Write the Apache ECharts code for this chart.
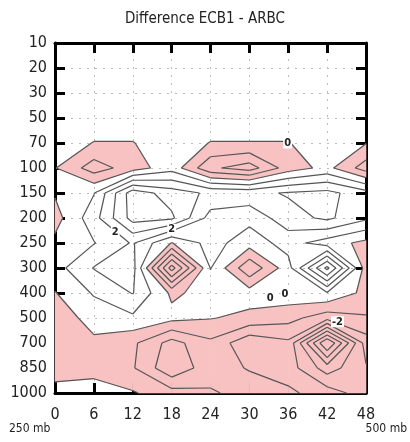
<!DOCTYPE html>
<html>
<head>
<meta charset="utf-8">
<script src="https://cdn.jsdelivr.net/npm/echarts@6/dist/echarts.min.js"></script>
<style>html,body{margin:0;padding:0;background:#fff}#main{width:410px;height:442px}</style>
</head>
<body>
<div id="main"></div>
<script>
// forecast hour (x) and pressure level (y, top to bottom)
var hours = [0, 6, 12, 18, 24, 30, 36, 42, 48];
var levels = ['10', '20', '30', '50', '70', '100', '150', '200', '250', '300', '400', '500', '700', '850', '1000'];

// difference ECB1 - ARBC, one array per level
var d10   = [0.3, 0.3, 0.3, 0.3, 0.3, 0.3, 0.3, 0.3, 0.3];
var d20   = [0.3, 0.3, 0.3, 0.3, 0.3, 0.3, 0.3, 0.3, 0.3];
var d30   = [0.3, 0.3, 0.3, 0.3, 0.3, 0.3, 0.3, 0.3, 0.3];
var d50   = [0.3, 0.3, 0.3, 0.3, 0.3, 0.3, 0.3, 0.3, 0.3];
var d70   = [0.3, -0.02, -0.02, 0.3, -0.02, -0.02, -0.02, 0.3, 0.05];
var d100  = [0.05, -1.5, -0.5, 0.6, -1.8, -2.5, -0.5, 0.3, -1.5];
var d150  = [0.1, 0.95, 4.6, 3.5, 2.8, 2.7, 3.1, 3.3, 2.4];
var d200  = [-0.4, 1.6, 4.4, 4.2, 1.6, 1.3, 2.6, 3.2, 2.2];
var d250  = [0.25, 0.95, 2.1, -0.05, 1.4, 0.45, 1.4, 0.5, -0.3];
var d300  = [0.6, 2.05, 2.4, -4.5, 1.05, -1.8, 0.6, 5.3, -0.5];
var d400  = [-0.05, 1.1, 2.05, -0.2, 0.4, 0.45, 0.6, 0.9, -0.3];
var d500  = [-0.6, 0.4, 0.8, 0.3, 0.05, -0.25, -0.65, -1.6, -1.1];
var d700  = [-0.6, -0.2, -0.8, -2.4, -1.2, -2.8, -2.2, -8.1, -2.5];
var d850  = [-0.5, -0.3, -0.9, -2.8, -1.4, -2.1, -2.5, -4.5, -3.1];
var d1000 = [0.4, 0.4, 0.1, -0.6, -0.9, -1.3, -1.8, -2.5, -3.5];
var rows = [d10, d20, d30, d50, d70, d100, d150, d200, d250, d300, d400, d500, d700, d850, d1000];

var contourLevels = [-7, -6, -5, -4, -3, -2, -1, 0, 1, 2, 3, 4, 5];

// contour labels: hour, level index, text
var labelHour = [35.9, 9.3, 18, 33.2, 35.5, 43.6];
var labelRow  = [4.0, 7.55, 7.45, 10.2, 10.05, 11.15];
var labelText = ['0', '2', '2', '0', '0', '-2'];

var FONT = 'Liberation Sans Narrow, DejaVu Sans Condensed, sans-serif';
var PINK = '#f8c2c2';

var cells = [];
for (var r = 0; r < rows.length - 1; r++) {
  for (var c = 0; c < hours.length - 1; c++) cells.push([hours[c], r, c]);
}

function corners(api, r, c) {
  var p = [api.coord([hours[c], r]), api.coord([hours[c + 1], r]),
           api.coord([hours[c + 1], r + 1]), api.coord([hours[c], r + 1])];
  var v = [rows[r][c], rows[r][c + 1], rows[r + 1][c + 1], rows[r + 1][c]];
  return { p: p, v: v };
}
function lerp(a, b, va, vb, L) {
  var t = (L - va) / (vb - va);
  return [a[0] + (b[0] - a[0]) * t, a[1] + (b[1] - a[1]) * t];
}

function renderFill(params, api) {
  var cell = cells[params.dataIndex];
  var k = corners(api, cell[1], cell[2]);
  var polys = [];
  var neg = k.v.map(function (v) { return v < 0; });
  var mean = (k.v[0] + k.v[1] + k.v[2] + k.v[3]) / 4;
  var saddle = neg[0] === neg[2] && neg[1] === neg[3] && neg[0] !== neg[1];
  if (saddle && mean >= 0) {
    // separate the two negative corners
    for (var i = 0; i < 4; i++) {
      if (!neg[i]) continue;
      var n = (i + 1) % 4, pr = (i + 3) % 4;
      polys.push([lerp(k.p[pr], k.p[i], k.v[pr], k.v[i], 0), k.p[i], lerp(k.p[i], k.p[n], k.v[i], k.v[n], 0)]);
    }
  } else {
    var pts = [];
    for (var i2 = 0; i2 < 4; i2++) {
      var j = (i2 + 1) % 4;
      if (neg[i2]) pts.push(k.p[i2]);
      if (neg[i2] !== neg[j]) pts.push(lerp(k.p[i2], k.p[j], k.v[i2], k.v[j], 0));
    }
    if (pts.length >= 3) polys.push(pts);
  }
  return { type: 'group', children: polys.map(function (pts) {
    return { type: 'polygon', shape: { points: pts }, style: { fill: PINK, stroke: PINK, lineWidth: 0.6 } };
  }) };
}

function renderLines(params, api) {
  var cell = cells[params.dataIndex];
  var k = corners(api, cell[1], cell[2]);
  var children = [];
  contourLevels.forEach(function (L) {
    var cr = [];
    for (var i = 0; i < 4; i++) {
      var j = (i + 1) % 4;
      if ((k.v[i] < L) !== (k.v[j] < L)) cr.push({ e: i, pt: lerp(k.p[i], k.p[j], k.v[i], k.v[j], L) });
    }
    var segs = [];
    if (cr.length === 2) segs.push([cr[0].pt, cr[1].pt]);
    else if (cr.length === 4) {
      var mean = (k.v[0] + k.v[1] + k.v[2] + k.v[3]) / 4;
      if ((mean < L) === (k.v[0] < L)) { segs.push([cr[0].pt, cr[1].pt]); segs.push([cr[2].pt, cr[3].pt]); }
      else { segs.push([cr[3].pt, cr[0].pt]); segs.push([cr[1].pt, cr[2].pt]); }
    }
    segs.forEach(function (s) {
      children.push({ type: 'line', shape: { x1: s[0][0], y1: s[0][1], x2: s[1][0], y2: s[1][1] },
        style: { stroke: '#555', lineWidth: 1.2 } });
    });
  });
  return { type: 'group', children: children };
}

function renderLabel(params, api) {
  var i = params.dataIndex;
  var p = api.coord([labelHour[i], labelRow[i]]);
  return { type: 'text', x: p[0], y: p[1], z2: 10,
    style: { text: labelText[i], fill: '#222', fontSize: 11, fontWeight: 'bold', fontFamily: FONT,
      align: 'center', verticalAlign: 'middle', backgroundColor: '#fff', padding: [0, 1] } };
}

var axisCommon = {
  type: 'value', min: 0,
  axisLine: { show: true, onZero: false, lineStyle: { color: '#000', width: 3 } },
  axisTick: { show: true, inside: true, length: 10, lineStyle: { color: '#000', width: 3 } },
  axisLabel: { show: true, fontSize: 16, color: '#222', fontFamily: FONT },
  splitLine: { show: false }
};

var chart = echarts.init(document.getElementById('main'));
chart.setOption({
  animation: false,
  title: { text: 'Difference ECB1 - ARBC', left: 'center', top: 7,
    textStyle: { fontSize: 15, fontWeight: 'normal', color: '#222', fontFamily: FONT } },
  grid: { left: 55, right: 44, top: 43, bottom: 49 },
  xAxis: [
    Object.assign({}, axisCommon, { position: 'bottom', max: 48, interval: 6,
      axisLabel: Object.assign({}, axisCommon.axisLabel, { margin: 14 }),
      splitLine: { show: true, lineStyle: { color: '#bbb', type: [2, 6], width: 1 } } }),
    Object.assign({}, axisCommon, { position: 'top', max: 48, interval: 6, axisLabel: { show: false } })
  ],
  yAxis: [
    Object.assign({}, axisCommon, { position: 'left', max: 14, interval: 1, inverse: true,
      axisLabel: Object.assign({}, axisCommon.axisLabel, { margin: 8, formatter: function (v) { return levels[v]; } }),
      splitLine: { show: true, lineStyle: { color: '#bbb', type: [2, 6], width: 1 } } }),
    Object.assign({}, axisCommon, { position: 'right', max: 14, interval: 1, inverse: true, axisLabel: { show: false } })
  ],
  graphic: [
    { type: 'text', left: 9, top: 423, style: { text: '250 mb', fontSize: 12, fill: '#222', fontFamily: FONT } },
    { type: 'text', right: 3, top: 423, style: { text: '500 mb', fontSize: 12, fill: '#222', fontFamily: FONT } }
  ],
  series: [
    { type: 'custom', renderItem: renderFill, data: cells, encode: { x: 0, y: 1 }, z: 1, silent: true },
    { type: 'custom', renderItem: renderLines, data: cells, encode: { x: 0, y: 1 }, z: 2, silent: true },
    { type: 'custom', renderItem: renderLabel, data: labelHour.map(function (h, i) { return [h, labelRow[i]]; }),
      encode: { x: 0, y: 1 }, z: 3, silent: true }
  ]
});
</script>
</body>
</html>
